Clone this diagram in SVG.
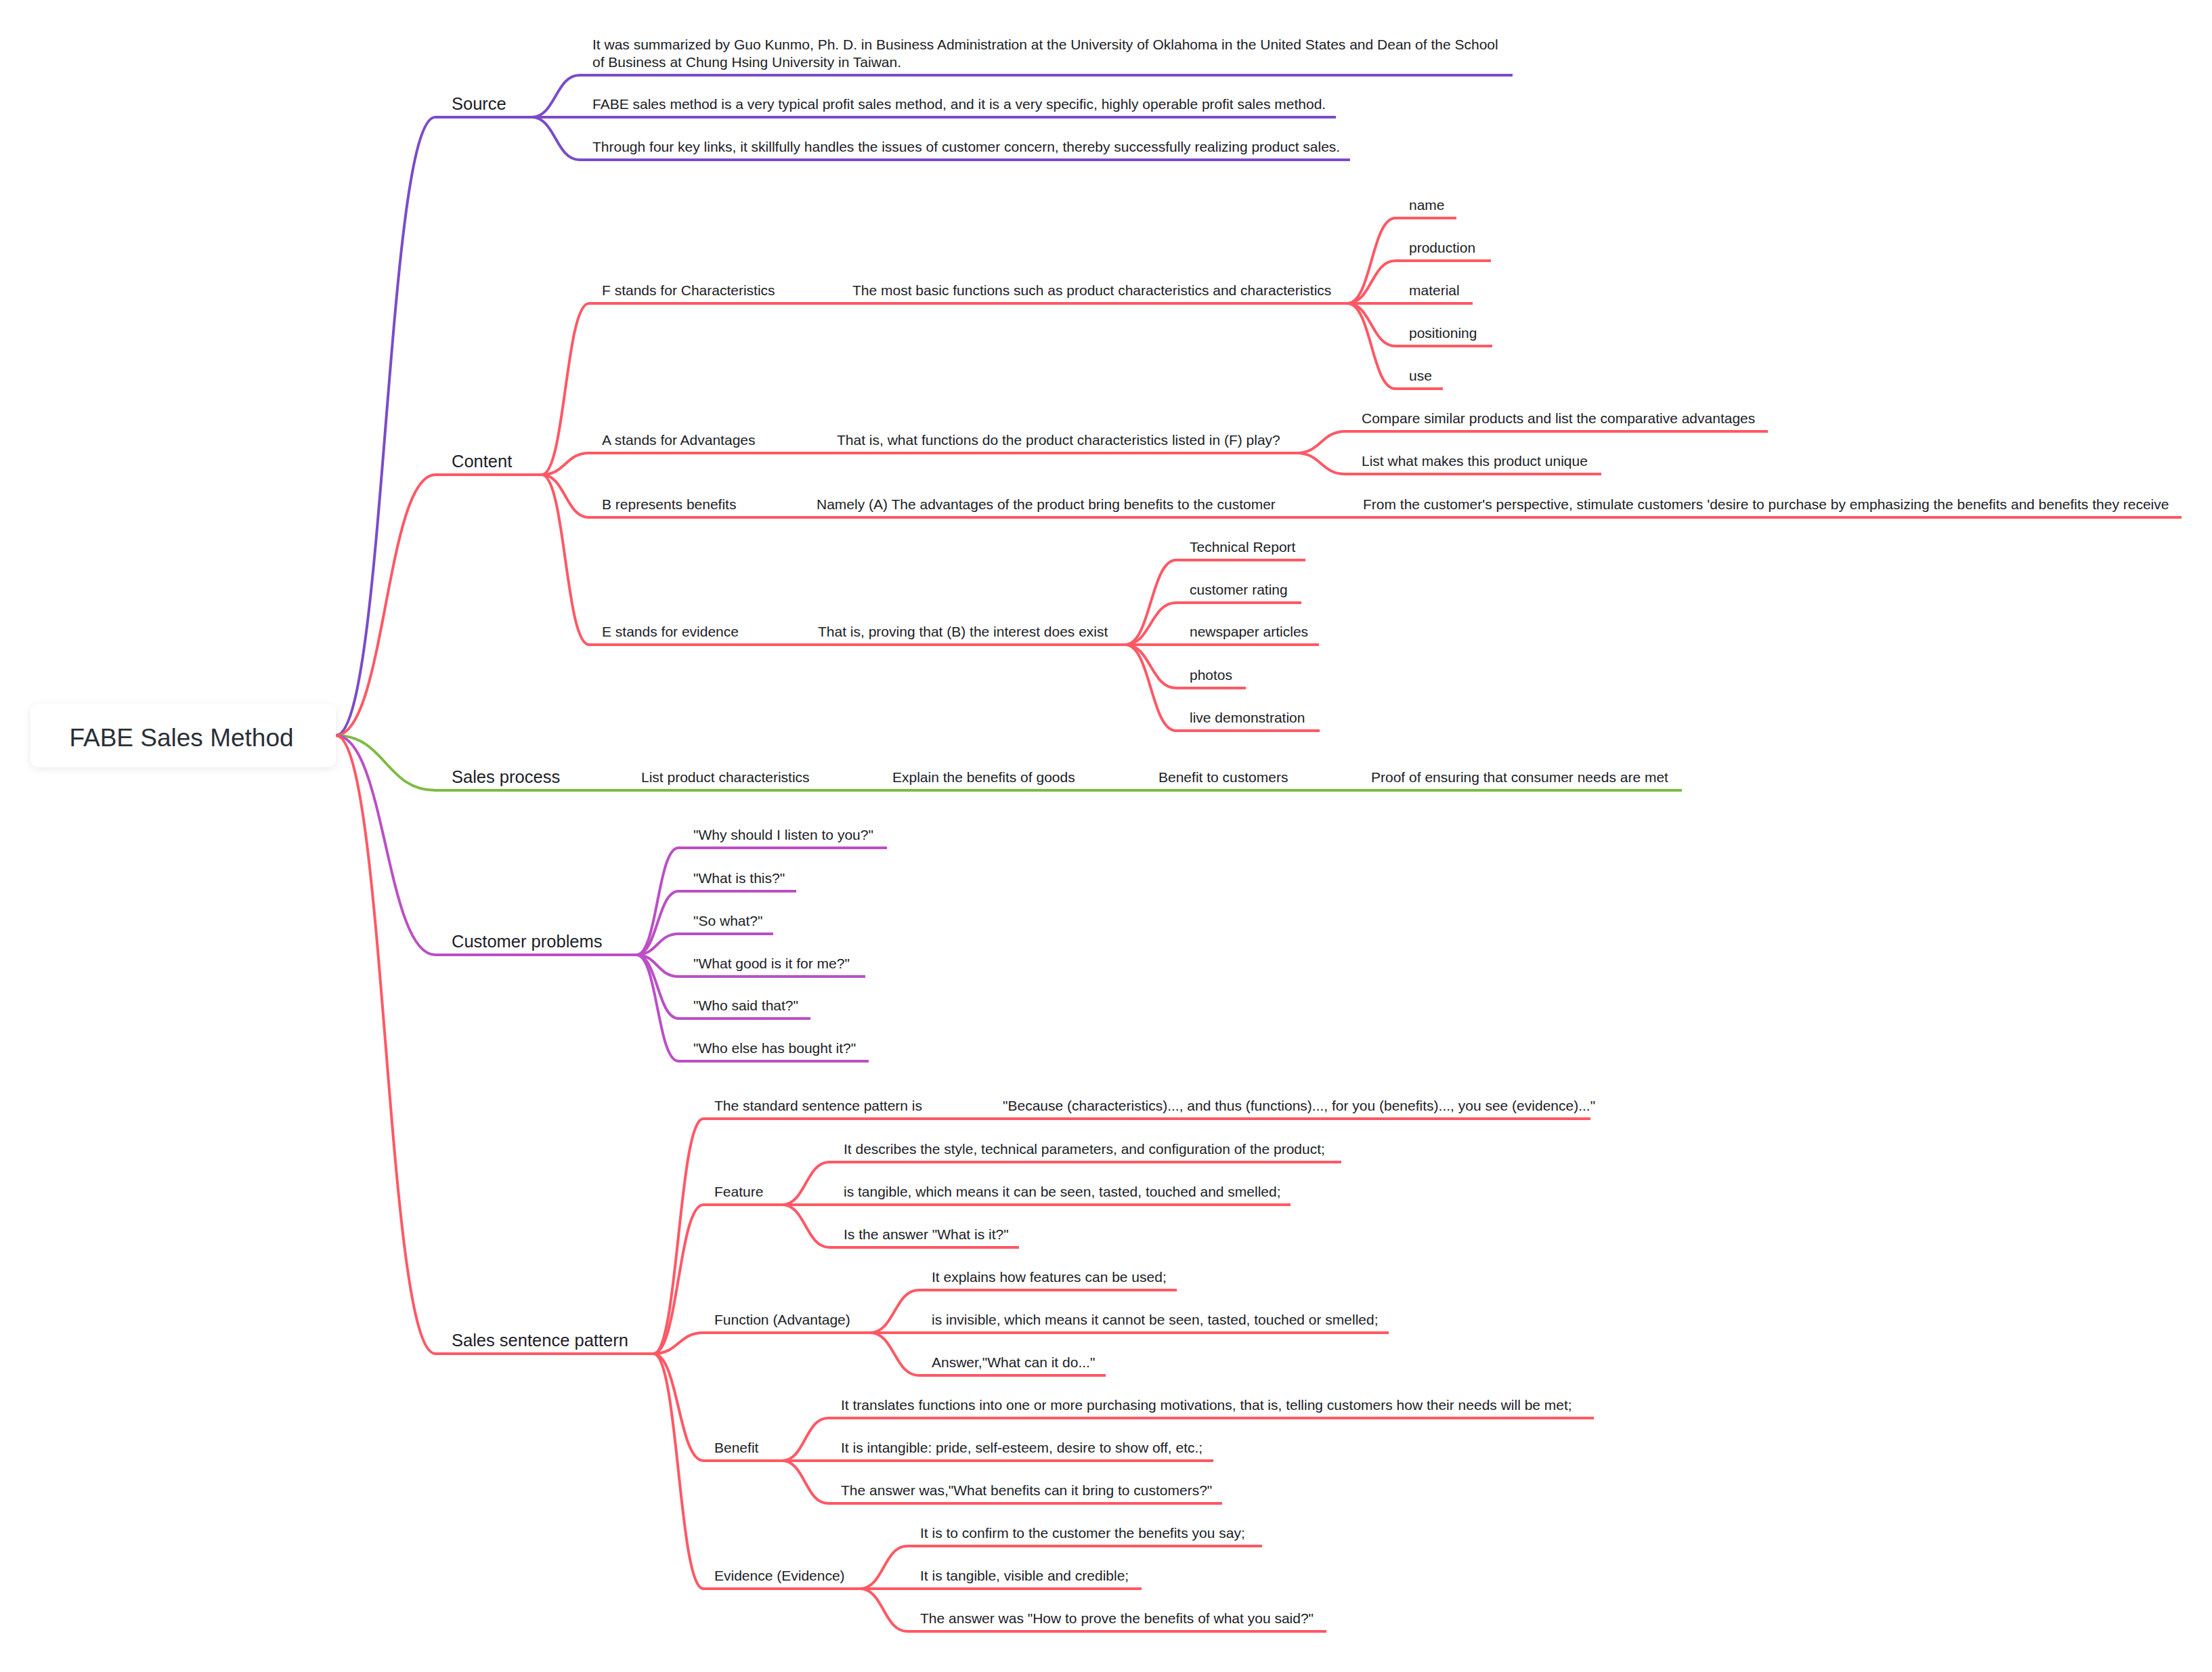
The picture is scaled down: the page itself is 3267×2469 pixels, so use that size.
<svg xmlns="http://www.w3.org/2000/svg" width="3267" height="2469" viewBox="0 0 3267 2469">
<defs>
<filter id="sh" x="-10%" y="-20%" width="120%" height="150%">
<feDropShadow dx="0" dy="3" stdDeviation="6" flood-color="#000" flood-opacity="0.08"/>
</filter>
</defs>
<style>
text{font-family:"Liberation Sans",Arial,sans-serif;fill:#1c1d26}
.t{font-size:21px}
.l1{font-size:25.5px}
.root{font-size:37px;fill:#2a2f37}
path{fill:none;stroke-width:4;stroke-linecap:butt}
.pu{stroke:#7a4cc8}
.rd{stroke:#ff5865}
.gr{stroke:#7cbb45}
.mg{stroke:#bb4fc6}
</style>
<rect x="0" y="0" width="3267" height="2469" fill="#ffffff"/>

<g id="connectors">
<!-- root to level 1 -->
<path class="pu" d="M496,1086 C569.5,1086 569.5,173 643,173"/>
<path class="rd" d="M496,1086 C569.5,1086 569.5,701 643,701"/>
<path class="gr" d="M496,1086 C569.5,1086 569.5,1167 643,1167"/>
<path class="mg" d="M496,1086 C569.5,1086 569.5,1410 643,1410"/>
<path class="rd" d="M496,1086 C569.5,1086 569.5,1999 643,1999"/>
<!-- Source -->
<path class="pu" d="M785,173 C820.5,173 820.5,111 856,111"/>
<path class="pu" d="M785,173 H856"/>
<path class="pu" d="M785,173 C820.5,173 820.5,236 856,236"/>
<!-- Content -->
<path class="rd" d="M800,701 C835,701 835,448 870,448"/>
<path class="rd" d="M800,701 C835,701 835,669 870,669"/>
<path class="rd" d="M800,701 C835,701 835,764 870,764"/>
<path class="rd" d="M800,701 C835,701 835,952 870,952"/>
<path class="rd" d="M1154,448 H1239"/>
<path class="rd" d="M1990,448 C2025.5,448 2025.5,322 2061,322"/>
<path class="rd" d="M1990,448 C2025.5,448 2025.5,385 2061,385"/>
<path class="rd" d="M1990,448 H2061"/>
<path class="rd" d="M1990,448 C2025.5,448 2025.5,511 2061,511"/>
<path class="rd" d="M1990,448 C2025.5,448 2025.5,574 2061,574"/>
<path class="rd" d="M1131,669 H1216"/>
<path class="rd" d="M1915,669 C1951,669 1951,637 1987,637"/>
<path class="rd" d="M1915,669 C1951,669 1951,700 1987,700"/>
<path class="rd" d="M1102,764 H1186"/>
<path class="rd" d="M1910,764 H1993"/>
<path class="rd" d="M1104,952 H1188"/>
<path class="rd" d="M1662,952 C1699.5,952 1699.5,827 1737,827"/>
<path class="rd" d="M1662,952 C1699.5,952 1699.5,890 1737,890"/>
<path class="rd" d="M1662,952 H1737"/>
<path class="rd" d="M1662,952 C1699.5,952 1699.5,1016 1737,1016"/>
<path class="rd" d="M1662,952 C1699.5,952 1699.5,1079 1737,1079"/>
<!-- Sales process -->
<path class="gr" d="M845,1167 H927"/>
<path class="gr" d="M1215,1167 H1298"/>
<path class="gr" d="M1608,1167 H1691"/>
<path class="gr" d="M1922,1167 H2005"/>
<!-- Customer problems -->
<path class="mg" d="M940,1410 C971,1410 971,1252 1002,1252"/>
<path class="mg" d="M940,1410 C971,1410 971,1316 1002,1316"/>
<path class="mg" d="M940,1410 C971,1410 971,1379 1002,1379"/>
<path class="mg" d="M940,1410 C971,1410 971,1442 1002,1442"/>
<path class="mg" d="M940,1410 C971,1410 971,1504 1002,1504"/>
<path class="mg" d="M940,1410 C971,1410 971,1567 1002,1567"/>
<!-- Sales sentence pattern -->
<path class="rd" d="M965,1999 C1002,1999 1002,1652 1039,1652"/>
<path class="rd" d="M965,1999 C1002,1999 1002,1779 1039,1779"/>
<path class="rd" d="M965,1999 C1002,1999 1002,1968 1039,1968"/>
<path class="rd" d="M965,1999 C1002,1999 1002,2157 1039,2157"/>
<path class="rd" d="M965,1999 C1002,1999 1002,2346 1039,2346"/>
<path class="rd" d="M1375,1652 H1461"/>
<path class="rd" d="M1155,1779 C1190,1779 1190,1716 1225,1716"/>
<path class="rd" d="M1155,1779 H1225"/>
<path class="rd" d="M1155,1779 C1190,1779 1190,1842 1225,1842"/>
<path class="rd" d="M1285,1968 C1321,1968 1321,1905 1357,1905"/>
<path class="rd" d="M1285,1968 H1357"/>
<path class="rd" d="M1285,1968 C1321,1968 1321,2031 1357,2031"/>
<path class="rd" d="M1155,2157 C1189,2157 1189,2094 1223,2094"/>
<path class="rd" d="M1155,2157 H1223"/>
<path class="rd" d="M1155,2157 C1189,2157 1189,2220 1223,2220"/>
<path class="rd" d="M1270,2346 C1305,2346 1305,2283 1340,2283"/>
<path class="rd" d="M1270,2346 H1340"/>
<path class="rd" d="M1270,2346 C1305,2346 1305,2409 1340,2409"/>
</g>

<g id="root">
<rect x="45" y="1039" width="451" height="94" rx="12" fill="#ffffff" filter="url(#sh)"/>
<text class="root" x="268" y="1102" text-anchor="middle">FABE Sales Method</text>
</g>

<!-- Source -->
<g id="source"><path class="pu" d="M643,173 H785"/><text class="l1" x="667" y="162">Source</text></g>
<g id="source-1"><path class="pu" d="M856,111 H2234"/><text class="t" x="875" y="73">It was summarized by Guo Kunmo, Ph. D. in Business Administration at the University of Oklahoma in the United States and Dean of the School</text><text class="t" x="875" y="99">of Business at Chung Hsing University in Taiwan.</text></g>
<g id="source-2"><path class="pu" d="M856,173 H1973"/><text class="t" x="875" y="161">FABE sales method is a very typical profit sales method, and it is a very specific, highly operable profit sales method.</text></g>
<g id="source-3"><path class="pu" d="M856,236 H1994"/><text class="t" x="875" y="224">Through four key links, it skillfully handles the issues of customer concern, thereby successfully realizing product sales.</text></g>

<!-- Content -->
<g id="content"><path class="rd" d="M643,701 H800"/><text class="l1" x="667" y="690">Content</text></g>
<g id="f"><path class="rd" d="M870,448 H1154"/><text class="t" x="889" y="436">F stands for Characteristics</text></g>
<g id="f-2"><path class="rd" d="M1239,448 H1990"/><text class="t" x="1259" y="436">The most basic functions such as product characteristics and characteristics</text></g>
<g id="f-name"><path class="rd" d="M2061,322 H2151"/><text class="t" x="2081" y="310">name</text></g>
<g id="f-production"><path class="rd" d="M2061,385 H2202"/><text class="t" x="2081" y="373">production</text></g>
<g id="f-material"><path class="rd" d="M2061,448 H2175"/><text class="t" x="2081" y="436">material</text></g>
<g id="f-positioning"><path class="rd" d="M2061,511 H2204"/><text class="t" x="2081" y="499">positioning</text></g>
<g id="f-use"><path class="rd" d="M2061,574 H2131"/><text class="t" x="2081" y="562">use</text></g>

<g id="a"><path class="rd" d="M870,669 H1131"/><text class="t" x="889" y="657">A stands for Advantages</text></g>
<g id="a-2"><path class="rd" d="M1216,669 H1915"/><text class="t" x="1236" y="657">That is, what functions do the product characteristics listed in (F) play?</text></g>
<g id="a-compare"><path class="rd" d="M1987,637 H2611"/><text class="t" x="2011" y="625">Compare similar products and list the comparative advantages</text></g>
<g id="a-unique"><path class="rd" d="M1987,700 H2365"/><text class="t" x="2011" y="688">List what makes this product unique</text></g>

<g id="b"><path class="rd" d="M870,764 H1102"/><text class="t" x="889" y="752">B represents benefits</text></g>
<g id="b-2"><path class="rd" d="M1186,764 H1910"/><text class="t" x="1206" y="752">Namely (A) The advantages of the product bring benefits to the customer</text></g>
<g id="b-3"><path class="rd" d="M1993,764 H3222"/><text class="t" x="2013" y="752">From the customer's perspective, stimulate customers 'desire to purchase by emphasizing the benefits and benefits they receive</text></g>

<g id="e"><path class="rd" d="M870,952 H1104"/><text class="t" x="889" y="940">E stands for evidence</text></g>
<g id="e-2"><path class="rd" d="M1188,952 H1662"/><text class="t" x="1208" y="940">That is, proving that (B) the interest does exist</text></g>
<g id="e-report"><path class="rd" d="M1737,827 H1928"/><text class="t" x="1757" y="815">Technical Report</text></g>
<g id="e-rating"><path class="rd" d="M1737,890 H1922"/><text class="t" x="1757" y="878">customer rating</text></g>
<g id="e-news"><path class="rd" d="M1737,952 H1948"/><text class="t" x="1757" y="940">newspaper articles</text></g>
<g id="e-photos"><path class="rd" d="M1737,1016 H1840"/><text class="t" x="1757" y="1004">photos</text></g>
<g id="e-live"><path class="rd" d="M1737,1079 H1949"/><text class="t" x="1757" y="1067">live demonstration</text></g>

<!-- Sales process -->
<g id="sales-process"><path class="gr" d="M643,1167 H845"/><text class="l1" x="667" y="1156">Sales process</text></g>
<g id="sp-1"><path class="gr" d="M927,1167 H1215"/><text class="t" x="947" y="1155">List product characteristics</text></g>
<g id="sp-2"><path class="gr" d="M1298,1167 H1608"/><text class="t" x="1318" y="1155">Explain the benefits of goods</text></g>
<g id="sp-3"><path class="gr" d="M1691,1167 H1922"/><text class="t" x="1711" y="1155">Benefit to customers</text></g>
<g id="sp-4"><path class="gr" d="M2005,1167 H2484"/><text class="t" x="2025" y="1155">Proof of ensuring that consumer needs are met</text></g>

<!-- Customer problems -->
<g id="customer-problems"><path class="mg" d="M643,1410 H940"/><text class="l1" x="667" y="1399">Customer problems</text></g>
<g id="cp-1"><path class="mg" d="M1002,1252 H1310"/><text class="t" x="1024" y="1240">"Why should I listen to you?"</text></g>
<g id="cp-2"><path class="mg" d="M1002,1316 H1176"/><text class="t" x="1024" y="1304">"What is this?"</text></g>
<g id="cp-3"><path class="mg" d="M1002,1379 H1142"/><text class="t" x="1024" y="1367">"So what?"</text></g>
<g id="cp-4"><path class="mg" d="M1002,1442 H1278"/><text class="t" x="1024" y="1430">"What good is it for me?"</text></g>
<g id="cp-5"><path class="mg" d="M1002,1504 H1197"/><text class="t" x="1024" y="1492">"Who said that?"</text></g>
<g id="cp-6"><path class="mg" d="M1002,1567 H1283"/><text class="t" x="1024" y="1555">"Who else has bought it?"</text></g>

<!-- Sales sentence pattern -->
<g id="sales-sentence-pattern"><path class="rd" d="M643,1999 H965"/><text class="l1" x="667" y="1988">Sales sentence pattern</text></g>
<g id="ssp-standard"><path class="rd" d="M1039,1652 H1375"/><text class="t" x="1055" y="1640">The standard sentence pattern is</text></g>
<g id="ssp-because"><path class="rd" d="M1461,1652 H2349"/><text class="t" x="1481" y="1640">"Because (characteristics)..., and thus (functions)..., for you (benefits)..., you see (evidence)..."</text></g>

<g id="feature"><path class="rd" d="M1039,1779 H1155"/><text class="t" x="1055" y="1767">Feature</text></g>
<g id="feature-1"><path class="rd" d="M1225,1716 H1981"/><text class="t" x="1246" y="1704">It describes the style, technical parameters, and configuration of the product;</text></g>
<g id="feature-2"><path class="rd" d="M1225,1779 H1906"/><text class="t" x="1246" y="1767">is tangible, which means it can be seen, tasted, touched and smelled;</text></g>
<g id="feature-3"><path class="rd" d="M1225,1842 H1505"/><text class="t" x="1246" y="1830">Is the answer "What is it?"</text></g>

<g id="function"><path class="rd" d="M1039,1968 H1285"/><text class="t" x="1055" y="1956">Function (Advantage)</text></g>
<g id="function-1"><path class="rd" d="M1357,1905 H1738"/><text class="t" x="1376" y="1893">It explains how features can be used;</text></g>
<g id="function-2"><path class="rd" d="M1357,1968 H2051"/><text class="t" x="1376" y="1956">is invisible, which means it cannot be seen, tasted, touched or smelled;</text></g>
<g id="function-3"><path class="rd" d="M1357,2031 H1633"/><text class="t" x="1376" y="2019">Answer,"What can it do..."</text></g>

<g id="benefit"><path class="rd" d="M1039,2157 H1155"/><text class="t" x="1055" y="2145">Benefit</text></g>
<g id="benefit-1"><path class="rd" d="M1223,2094 H2354"/><text class="t" x="1242" y="2082">It translates functions into one or more purchasing motivations, that is, telling customers how their needs will be met;</text></g>
<g id="benefit-2"><path class="rd" d="M1223,2157 H1792"/><text class="t" x="1242" y="2145">It is intangible: pride, self-esteem, desire to show off, etc.;</text></g>
<g id="benefit-3"><path class="rd" d="M1223,2220 H1805"/><text class="t" x="1242" y="2208">The answer was,"What benefits can it bring to customers?"</text></g>

<g id="evidence"><path class="rd" d="M1039,2346 H1270"/><text class="t" x="1055" y="2334">Evidence (Evidence)</text></g>
<g id="evidence-1"><path class="rd" d="M1340,2283 H1864"/><text class="t" x="1359" y="2271">It is to confirm to the customer the benefits you say;</text></g>
<g id="evidence-2"><path class="rd" d="M1340,2346 H1686"/><text class="t" x="1359" y="2334">It is tangible, visible and credible;</text></g>
<g id="evidence-3"><path class="rd" d="M1340,2409 H1959"/><text class="t" x="1359" y="2397">The answer was "How to prove the benefits of what you said?"</text></g>
</svg>
